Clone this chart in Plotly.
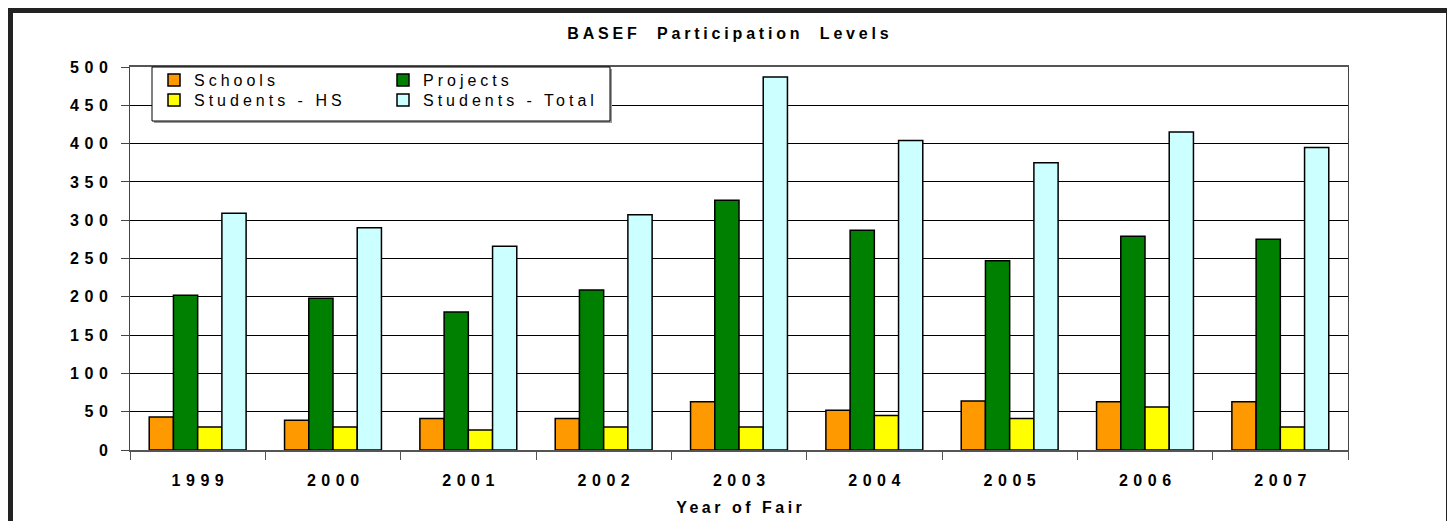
import plotly.graph_objects as go

years = ["1999", "2000", "2001", "2002", "2003", "2004", "2005", "2006", "2007"]
schools = [43, 39, 41, 41, 63, 52, 64, 63, 63]
projects = [202, 198, 180, 209, 326, 287, 247, 279, 275]
students_hs = [30, 30, 26, 30, 30, 45, 41, 56, 30]
students_total = [309, 290, 266, 307, 487, 404, 375, 415, 395]
y_ticks = list(range(0, 501, 50))

# page is shown with an 8px body margin, so figure coords = page coords - 8
OFF = 8
W, H = 1455 - OFF, 521 - OFF
L, R, T, B = 130 - OFF, 1348 - OFF, 67 - OFF, 450 - OFF
pw, ph = R - L, B - T


def px(x):
    return (x - OFF - L) / pw


def py(y):
    return (B - (y - OFF)) / ph


def spaced(s, ls, bold=True):
    inner = '<span style="letter-spacing:%spx">%s</span>%s' % (ls, s[:-1], s[-1])
    return "<b>%s</b>" % inner if bold else inner


FONT = "Liberation Sans, Arial, sans-serif"
series = [
    ("Schools", schools, "#FF9900", "legend"),
    ("Projects", projects, "#008000", "legend"),
    ("Students - HS", students_hs, "#FFFF00", "legend2"),
    ("Students - Total", students_total, "#CCFFFF", "legend2"),
]

fig = go.Figure()
for name, vals, col, lg in series:
    fig.add_trace(go.Bar(
        x=years, y=vals, name=spaced(name, 4, bold=False), legend=lg,
        marker=dict(color=col, line=dict(color="black", width=1.5)),
    ))

shapes = [
    # outer frame
    dict(type="rect", xref="paper", yref="paper",
         x0=px(10.5), x1=px(1448.5), y0=py(540), y1=py(10.5),
         line=dict(color="#222222", width=5), fillcolor="rgba(0,0,0,0)", layer="below"),
    # legend shadow
    dict(type="rect", xref="paper", yref="paper",
         x0=px(154), x1=px(612), y0=py(123), y1=py(69),
         line=dict(width=0), fillcolor="#9a9a9a", layer="above"),
    # legend box
    dict(type="rect", xref="paper", yref="paper",
         x0=px(152), x1=px(610), y0=py(121), y1=py(67),
         line=dict(color="black", width=1), fillcolor="white", layer="above"),
]

leg_common = dict(orientation="h", xanchor="left", yanchor="top",
                  bgcolor="rgba(0,0,0,0)", borderwidth=0,
                  font=dict(size=16, family=FONT, color="black"),
                  entrywidth=184, entrywidthmode="pixels", itemclick=False, tracegroupgap=0)

fig.update_layout(
    width=W, height=H,
    margin=dict(l=L, r=W - R, t=T, b=H - B, pad=0, autoexpand=False),
    paper_bgcolor="white", plot_bgcolor="white",
    barmode="group", bargap=0.284, bargroupgap=0,
    font=dict(family=FONT, color="black"),
    title=dict(text=spaced("BASEF  Participation  Levels", 3.8), xref="paper", x=px(728),
               xanchor="center", yref="container", y=1 - (33 - OFF) / H, yanchor="middle",
               font=dict(size=16, family=FONT, color="black")),
    showlegend=True,
    legend=dict(x=px(154), y=py(63), **leg_common),
    legend2=dict(x=px(154), y=py(83), **leg_common),
    shapes=shapes,
    xaxis=dict(
        type="category", automargin=False,
        showgrid=False, showline=True, linecolor="#555555", linewidth=1.5,
        mirror=True, ticks="outside", tickson="boundaries", ticklen=8, tickcolor="#555555",
        tickfont=dict(size=16, family=FONT, color="black"), ticklabelstandoff=15,
        tickvals=years, ticktext=[spaced(y, 5.5) for y in years],
        title=dict(text=spaced("Year of Fair", 3.5), font=dict(size=16, family=FONT, color="black"),
                   standoff=14),
    ),
    yaxis=dict(
        automargin=False,
        range=[0, 500], dtick=50, showgrid=True, gridcolor="black", gridwidth=1,
        showline=True, linecolor="#444444", linewidth=1, mirror=True,
        ticks="outside", ticklen=8, tickcolor="#444444",
        tickfont=dict(size=16, family=FONT, color="black"), ticklabelstandoff=10,
        tickvals=y_ticks,
        ticktext=[spaced(str(v), 5.5) for v in y_ticks],
        zeroline=False,
    ),
)

fig.write_html("out.html")
